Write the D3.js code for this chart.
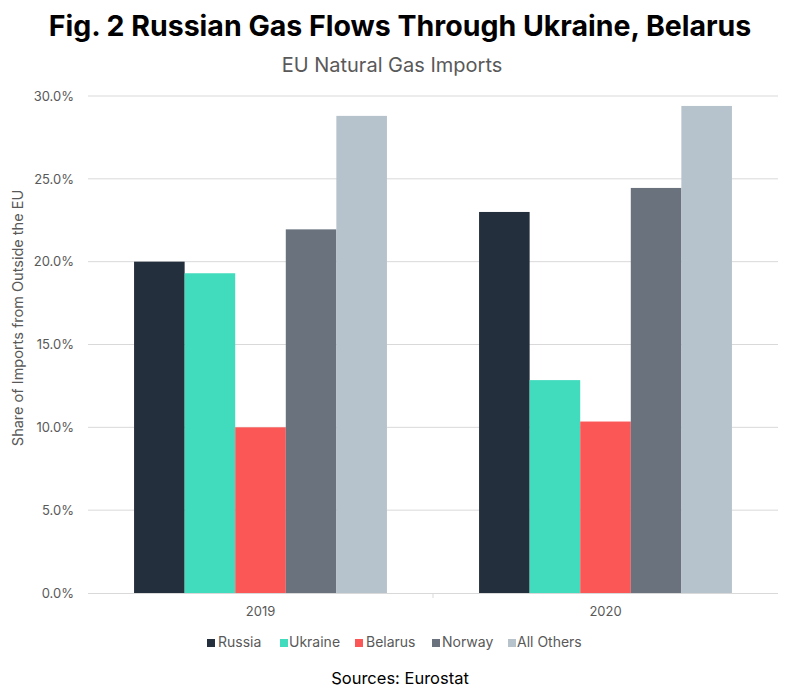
<!DOCTYPE html>
<html><head><meta charset="utf-8">
<script src="https://cdn.jsdelivr.net/npm/d3@7"></script>
<style>body{margin:0;background:#fff;} svg{display:block;font-family:Inter,"Noto Sans",sans-serif;}</style>
</head><body>
<svg id="c" width="800" height="693"></svg>
<script>
const years = ["2019", "2020"];
const seriesNames = ["Russia", "Ukraine", "Belarus", "Norway", "All Others"];
const russia = [20.0, 23.0];
const ukraine = [19.3, 12.85];
const belarus = [10.0, 10.35];
const norway = [21.95, 24.45];
const allOthers = [28.8, 29.4];
const colors = ["#242f3d", "#41dbbd", "#fc5757", "#69727d", "#b6c2cc"];
const yTicks = [0, 5, 10, 15, 20, 25, 30];

const values = [russia, ukraine, belarus, norway, allOthers];
const svg = d3.select("#c");
const L = 88, R = 778, T = 96, B = 593;

const x0 = d3.scaleBand().domain(years).range([L, R]).paddingInner(0.267).paddingOuter(0.1335);
const x1 = d3.scaleBand().domain(seriesNames).range([0, x0.bandwidth()]);
const y = d3.scaleLinear().domain([0, 30]).range([B, T]);

// gridlines
svg.append("g").selectAll("line").data(yTicks.filter(d => d > 0)).join("line")
  .attr("x1", L).attr("x2", R).attr("y1", d => y(d)).attr("y2", d => y(d))
  .attr("stroke", "#d9d9d9").attr("stroke-width", 1);

// y axis labels
const yAxis = d3.axisLeft(y).tickValues(yTicks).tickFormat(d => d3.format(".1f")(d) + "%").tickSize(0).tickPadding(14);
const gy = svg.append("g").attr("transform", `translate(${L},0)`).call(yAxis);
gy.select(".domain").remove();
gy.selectAll("text").attr("fill", "#595959").style("font-size", "13px").style("font-family", "Inter,sans-serif");

// bars
const groups = svg.append("g").selectAll("g").data(years).join("g")
  .attr("transform", d => `translate(${x0(d)},0)`);
groups.selectAll("rect").data((d, i) => seriesNames.map((s, j) => ({s, v: values[j][i], c: colors[j]}))).join("rect")
  .attr("x", d => x1(d.s)).attr("width", x1.bandwidth())
  .attr("y", d => y(d.v)).attr("height", d => B - y(d.v)).attr("fill", d => d.c);

// x axis
const xAxis = d3.axisBottom(x0).tickSize(0).tickPadding(14);
const gx = svg.append("g").attr("transform", `translate(0,${B})`).call(xAxis);
gx.select(".domain").attr("stroke", "#d9d9d9").attr("d", `M${L},0.5H${R}`);
gx.selectAll("text").attr("fill", "#595959").style("font-size", "13px").style("font-family", "Inter,sans-serif");
// separator tick between categories
gx.append("line").attr("x1", (x0("2019") + x0.bandwidth() + x0("2020")) / 2).attr("x2", (x0("2019") + x0.bandwidth() + x0("2020")) / 2)
  .attr("y1", 0).attr("y2", 5).attr("stroke", "#d9d9d9");

// titles
svg.append("text").attr("x", 400).attr("y", 36).attr("text-anchor", "middle")
  .style("font-size", "28.5px").style("font-weight", "700").attr("fill", "#000")
  .text("Fig. 2 Russian Gas Flows Through Ukraine, Belarus");
svg.append("text").attr("x", 392).attr("y", 72).attr("text-anchor", "middle")
  .style("font-size", "20px").attr("fill", "#595959").text("EU Natural Gas Imports");
svg.append("text").attr("transform", `translate(23,${318}) rotate(-90)`).attr("text-anchor", "middle")
  .style("font-size", "14.5px").attr("fill", "#595959").text("Share of Imports from Outside the EU");

// legend
const legendSq = [207, 280, 355, 432, 508];
const legendTx = [218, 289, 366, 442, 517];
const lg = svg.append("g").selectAll("g").data(seriesNames).join("g");
lg.append("rect").attr("x", (d, i) => legendSq[i]).attr("y", 639).attr("width", 8).attr("height", 8).attr("fill", (d, i) => colors[i]);
lg.append("text").attr("x", (d, i) => legendTx[i]).attr("y", 647).style("font-size", "14px").attr("fill", "#595959").text(d => d);

svg.append("text").attr("x", 400).attr("y", 684).attr("text-anchor", "middle")
  .style("font-size", "16.5px").attr("fill", "#000").text("Sources: Eurostat");
</script>
</body></html>
